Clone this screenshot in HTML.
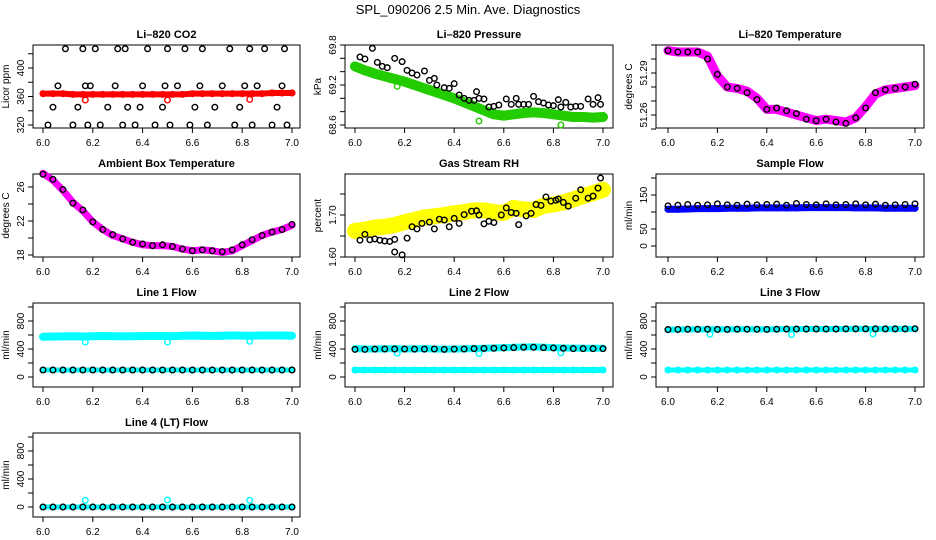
<!DOCTYPE html>
<html><head><meta charset="utf-8"><style>
html,body{margin:0;padding:0;background:#fff;}
svg{display:block;font-family:"Liberation Sans",sans-serif;}
</style></head><body>
<svg id="c" width="936" height="540" viewBox="0 0 936 540" xmlns="http://www.w3.org/2000/svg">
<text x="468" y="14" text-anchor="middle" font-size="13">SPL_090206  2.5 Min. Ave. Diagnostics</text>
</svg>
<script>
const times = [6.00,6.04,6.08,6.12,6.16,6.20,6.24,6.28,6.32,6.36,6.40,6.44,6.48,6.52,6.56,6.60,6.64,6.68,6.72,6.76,6.80,6.84,6.88,6.92,6.96,7.00];
const xTicks = [6.0,6.2,6.4,6.6,6.8,7.0];
const xTickLabels = ["6.0","6.2","6.4","6.6","6.8","7.0"];

const co2Red = [364,364,364,363,363,363,363,363,363,363,363,363,363,363,363,364,364,364,364,364,364,364,364,365,365,365];
const co2BlackX = [6.02,6.04,6.06,6.09,6.12,6.14,6.16,6.17,6.18,6.19,6.21,6.23,6.26,6.29,6.30,6.32,6.33,6.34,6.37,6.39,6.40,6.42,6.45,6.48,6.49,6.50,6.51,6.54,6.57,6.59,6.61,6.63,6.64,6.66,6.69,6.72,6.75,6.77,6.79,6.81,6.83,6.84,6.86,6.89,6.92,6.94,6.96,6.97,6.98];
const co2BlackY = [320,345,375,427,320,345,427,375,320,375,427,320,345,375,427,320,427,345,320,345,375,427,320,345,375,427,320,375,427,320,345,375,427,320,345,375,427,320,345,375,427,320,375,427,320,345,375,427,320];

const presGreen = [69.48,69.42,69.37,69.33,69.29,69.25,69.20,69.15,69.10,69.05,69.00,68.94,68.88,68.82,68.76,68.74,68.76,68.78,68.79,68.78,68.76,68.74,68.72,68.72,68.71,68.72];
const presBlackX = [6.02,6.04,6.07,6.09,6.11,6.13,6.16,6.19,6.21,6.23,6.25,6.28,6.30,6.32,6.33,6.36,6.38,6.40,6.42,6.44,6.46,6.48,6.49,6.50,6.52,6.54,6.56,6.58,6.61,6.63,6.65,6.66,6.68,6.70,6.72,6.74,6.76,6.78,6.80,6.82,6.83,6.85,6.87,6.89,6.91,6.94,6.96,6.98,6.99];
const presBlackY = [69.62,69.59,69.75,69.54,69.48,69.46,69.60,69.55,69.42,69.38,69.35,69.41,69.27,69.30,69.20,69.16,69.15,69.22,69.05,69.00,68.97,68.97,69.10,69.00,68.99,68.87,68.88,68.90,68.99,68.91,69.00,68.91,68.91,68.91,69.03,68.95,68.93,68.90,68.89,68.98,68.87,68.94,68.87,68.88,68.88,68.99,68.91,69.01,68.91];

const liTempMag = [51.306,51.305,51.305,51.305,51.302,51.288,51.280,51.279,51.277,51.272,51.264,51.264,51.262,51.260,51.258,51.256,51.257,51.256,51.255,51.258,51.266,51.275,51.278,51.279,51.280,51.281];
const liTempBlack = [51.306,51.305,51.305,51.305,51.300,51.289,51.280,51.279,51.276,51.271,51.264,51.265,51.263,51.261,51.257,51.256,51.257,51.255,51.254,51.258,51.265,51.276,51.278,51.279,51.280,51.282];

const ambMag = [27.6,26.8,25.6,24.2,23.2,21.9,21.0,20.3,19.9,19.5,19.2,19.1,19.1,19.0,18.7,18.5,18.6,18.5,18.3,18.5,19.1,19.7,20.3,20.7,21.0,21.5];
const ambBlack = [27.5,26.9,25.7,24.1,23.3,21.9,21.0,20.4,19.9,19.5,19.3,19.1,19.2,19.0,18.7,18.5,18.6,18.5,18.4,18.6,19.2,19.8,20.3,20.7,21.0,21.6];

const rhYellow = [1.662,1.665,1.670,1.672,1.676,1.683,1.688,1.694,1.697,1.700,1.704,1.707,1.711,1.711,1.707,1.705,1.717,1.713,1.712,1.722,1.725,1.730,1.737,1.745,1.752,1.760];
const rhBlackX = [6.02,6.04,6.06,6.08,6.10,6.12,6.14,6.16,6.16,6.19,6.21,6.23,6.25,6.27,6.30,6.32,6.34,6.36,6.38,6.40,6.42,6.44,6.47,6.49,6.50,6.52,6.54,6.56,6.59,6.61,6.63,6.65,6.66,6.69,6.71,6.73,6.75,6.77,6.79,6.81,6.82,6.84,6.86,6.89,6.91,6.94,6.96,6.98,6.99];
const rhBlackY = [1.640,1.654,1.641,1.643,1.640,1.638,1.637,1.642,1.612,1.605,1.645,1.672,1.667,1.680,1.683,1.667,1.690,1.688,1.672,1.692,1.680,1.701,1.709,1.710,1.700,1.679,1.685,1.682,1.700,1.717,1.706,1.704,1.677,1.698,1.704,1.725,1.723,1.743,1.733,1.735,1.738,1.730,1.721,1.740,1.760,1.740,1.745,1.764,1.788];

const sampleBlue = [108,108,109,110,110,110,111,111,111,112,112,112,112,112,113,113,113,113,113,112,112,112,111,111,111,111];
const sampleBlack = [118,120,122,120,121,124,121,120,123,121,122,123,120,125,122,121,124,121,122,124,121,123,120,121,122,124];

const line1Cyan = [575,578,580,582,578,583,585,583,580,582,584,586,585,583,590,592,590,588,590,592,591,590,592,593,592,590];
const line1Low = [100,100,100,100,100,100,100,100,100,100,100,100,100,100,100,100,100,100,100,100,100,100,100,100,100,100];
const line1Black = [100,100,100,100,100,100,100,100,100,100,100,100,100,100,100,100,100,100,100,100,100,100,100,100,100,100];
const line2Cyan = [405,400,400,402,405,400,402,405,400,398,400,402,405,410,415,420,425,428,430,425,420,415,412,410,410,410];
const line2Low = [100,100,100,100,100,100,100,100,100,100,100,100,100,100,100,100,100,100,100,100,100,100,100,100,100,100];
const line2Black = [395,395,398,400,400,400,398,398,400,395,398,400,405,408,410,415,420,425,425,420,415,410,405,405,405,405];
const line3Cyan = [675,678,680,680,682,680,680,682,682,680,680,682,684,684,685,685,686,686,687,688,688,688,688,688,688,688];
const line3Low = [100,100,100,100,100,100,100,100,100,100,100,100,100,100,100,100,100,100,100,100,100,100,100,100,100,100];
const line3Black = [678,680,682,682,683,680,680,683,683,682,680,683,685,685,686,686,686,686,688,688,688,688,688,688,688,690];
const line4Cyan = [0,0,0,0,0,0,0,0,0,0,0,0,0,0,0,0,0,0,0,0,0,0,0,0,0,0];
const line4Black = [0,0,0,0,0,0,0,0,0,0,0,0,0,0,0,0,0,0,0,0,0,0,0,0,0,0];
const outlierX = [6.17,6.50,6.83];
const line1Out = [500,500,510];
const line2Out = [340,335,345];
const line3Out = [610,605,615];
const line4Out = [95,100,95];

const NS = "http://www.w3.org/2000/svg";
const svg = document.getElementById('c');
function el(tag, attrs, parent){ const e = document.createElementNS(NS, tag); for (const k in attrs) e.setAttribute(k, attrs[k]); (parent||svg).appendChild(e); return e; }

const cols = [{L:33,R:300,x6:43,x7:292},{L:345,R:613,x6:355,x7:603},{L:656,R:924,x6:668,x7:915}];
const rows = [{T:45,B:128},{T:174,B:257},{T:303,B:387},{T:433,B:517}];

function makePanel(name, title, ci, ri, v0, p0, v1, p1, yTicks, yLabels, ytitle){
  const c = cols[ci], r = rows[ri];
  const g = el('g', {});
  
  
  const X = v => c.x6 + (v - 6) * (c.x7 - c.x6);
  const Y = v => p0 + (v - v0) * (p1 - p0) / (v1 - v0);
  const box = el('rect', {x:c.L, y:r.T, width:c.R-c.L, height:r.B-r.T, fill:'none', stroke:'#000', 'stroke-width':1}, g);
  
  
  const t = el('text', {x:(c.L+c.R)/2, y:r.T-7, 'text-anchor':'middle', 'font-size':11, 'font-weight':'bold'}, g);
  t.textContent = title;
  
  
  const xa = el('g', {}, g);
  
  
  const axY = r.B;
  xTicks.forEach((v,i) => {
    el('line', {x1:X(v), x2:X(v), y1:axY, y2:axY+5, stroke:'#000'}, xa);
    const tl = el('text', {x:X(v), y:axY+18, 'text-anchor':'middle', 'font-size':10}, xa);
    tl.textContent = xTickLabels[i];
    
    
  });
  const ya = el('g', {}, g);
  
  
  const axX = c.L;
  yTicks.forEach(v => el('line', {x1:axX-5, x2:axX, y1:Y(v), y2:Y(v), stroke:'#000'}, ya));
  yLabels.forEach(s => {
    const yy = Y(parseFloat(s)), xx = axX - 9;
    const tl = el('text', {x:xx, y:yy, 'text-anchor':'middle', 'font-size':10, transform:`rotate(-90 ${xx} ${yy})`}, ya);
    tl.textContent = s;
    
    
  });
  const yt = el('text', {x:c.L-24, y:(r.T+r.B)/2, 'text-anchor':'middle', 'font-size':10, transform:`rotate(-90 ${c.L-24} ${(r.T+r.B)/2})`}, g);
  yt.textContent = ytitle;
  
  
  return {g, X, Y};
}

function band(p, xs, ys, color, w, nm){
  const s = el('g', {}, p.g);
  
  
  el('polyline', {points: xs.map((x,i)=>p.X(x)+','+p.Y(ys[i])).join(' '), fill:'none', stroke:color, 'stroke-width':w, 'stroke-linejoin':'round', 'stroke-linecap':'round'}, s);
  xs.forEach((x,i)=>el('circle', {cx:p.X(x), cy:p.Y(ys[i]), r:2.8, fill:'none', stroke:color, 'stroke-width':1.5}, s));
}
function pts(p, xs, ys, color, nm){
  const s = el('g', {}, p.g);
  
  
  xs.forEach((x,i)=>el('circle', {cx:p.X(x), cy:p.Y(ys[i]), r:2.8, fill:'none', stroke:color, 'stroke-width':1.4}, s));
}

let p;
p = makePanel('co2', 'Li\u2013820 CO2', 0, 0, 320, 125, 400, 68, [320,340,360,380,400,420], ["320","360","400"], 'Licor ppm');
band(p, times, co2Red, '#ff0000', 6, 'co2-red-series');
pts(p, outlierX, [355,355,356], '#ff0000', 'co2-red-outliers');
pts(p, co2BlackX, co2BlackY, '#000', 'co2-black-series');

p = makePanel('pressure', 'Li\u2013820 Pressure', 1, 0, 68.6, 125, 69.8, 45, [68.6,68.8,69.0,69.2,69.4,69.6,69.8], ["68.6","69.2","69.8"], 'kPa');
band(p, times, presGreen, '#22cc00', 10, 'pressure-green-series');
pts(p, outlierX, [69.18,68.66,68.60], '#22cc00', 'pressure-green-outliers');
pts(p, presBlackX, presBlackY, '#000', 'pressure-black-series');

p = makePanel('li-temp', 'Li\u2013820 Temperature', 2, 0, 51.26, 115, 51.29, 73, [51.25,51.26,51.27,51.28,51.29,51.30,51.31], ["51.26","51.29"], 'degrees C');
band(p, times, liTempMag, '#ff00ff', 9, 'li-temp-magenta-series');
pts(p, times, liTempBlack, '#000', 'li-temp-black-series');

p = makePanel('ambient', 'Ambient Box Temperature', 0, 1, 18, 255, 26, 187, [18,20,22,24,26], ["18","22","26"], 'degrees C');
band(p, times, ambMag, '#ff00ff', 7, 'ambient-magenta-series');
pts(p, times, ambBlack, '#000', 'ambient-black-series');

p = makePanel('rh', 'Gas Stream RH', 1, 1, 1.60, 257, 1.70, 215, [1.60,1.65,1.70,1.75], ["1.60","1.70"], 'percent');
band(p, times, rhYellow, '#ffff00', 16, 'rh-yellow-series');
pts(p, rhBlackX, rhBlackY, '#000', 'rh-black-series');

p = makePanel('sample-flow', 'Sample Flow', 2, 1, 0, 246, 150, 195, [0,50,100,150,200], ["0","50","150"], 'ml/min');
band(p, times, sampleBlue, '#0000ff', 7, 'sample-blue-series');
pts(p, times, sampleBlack, '#000', 'sample-black-series');

const fT = [0,200,400,600,800,1000], fL = ["0","400","800"];
p = makePanel('line1', 'Line 1 Flow', 0, 2, 0, 377, 800, 321, fT, fL, 'ml/min');
band(p, times, line1Cyan, '#00ffff', 8, 'line1-cyan-series');
band(p, times, line1Low, '#00ffff', 5, 'line1-cyan-low-series');
pts(p, outlierX, line1Out, '#00ffff', 'line1-cyan-outliers');
pts(p, times, line1Black, '#000', 'line1-black-series');

p = makePanel('line2', 'Line 2 Flow', 1, 2, 0, 377, 800, 321, fT, fL, 'ml/min');
band(p, times, line2Cyan, '#00ffff', 7, 'line2-cyan-series');
band(p, times, line2Low, '#00ffff', 6, 'line2-cyan-low-series');
pts(p, outlierX, line2Out, '#00ffff', 'line2-cyan-outliers');
pts(p, times, line2Black, '#000', 'line2-black-series');

p = makePanel('line3', 'Line 3 Flow', 2, 2, 0, 377, 800, 321, fT, fL, 'ml/min');
band(p, times, line3Cyan, '#00ffff', 6, 'line3-cyan-series');
band(p, times, line3Low, '#00ffff', 5, 'line3-cyan-low-series');
pts(p, outlierX, line3Out, '#00ffff', 'line3-cyan-outliers');
pts(p, times, line3Black, '#000', 'line3-black-series');

p = makePanel('line4', 'Line 4 (LT) Flow', 0, 3, 0, 507, 800, 451, fT, fL, 'ml/min');
band(p, times, line4Cyan, '#00ffff', 5, 'line4-cyan-series');
pts(p, outlierX, line4Out, '#00ffff', 'line4-cyan-outliers');
pts(p, times, line4Black, '#000', 'line4-black-series');
</script>
</body></html>
